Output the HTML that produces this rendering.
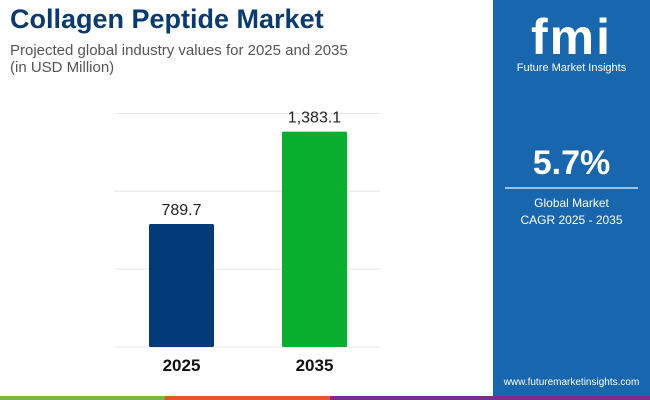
<!DOCTYPE html>
<html><head><meta charset="utf-8"><style>
body{margin:0;width:650px;height:400px;overflow:hidden;background:#fff;font-family:"Liberation Sans",sans-serif;position:relative}
.t{position:absolute;left:10px;top:4px;font-size:27px;font-weight:bold;color:#0b3b6e}
.s{position:absolute;left:10px;top:42px;font-size:15px;color:#555;line-height:17px}
.panel{position:absolute;left:493px;top:0;width:157px;height:396px;background:#1866ad;color:#fff;text-align:center}
</style></head><body>
<div class="t">Collagen Peptide Market</div>
<div class="s">Projected global industry values for 2025 and 2035<br>(in USD Million)</div>
<svg id="c" width="490" height="400" style="position:absolute;left:0;top:0"></svg>
<div class="panel">
<div style="font-size:50px;font-weight:bold;margin-top:8px;letter-spacing:2px">fmi</div>
<div style="font-size:11px;margin-top:-4px">Future Market Insights</div>
<div style="font-size:34px;font-weight:bold;margin-top:70px">5.7%</div>
<div style="height:2px;background:#9cc3e6;margin:4px 12px 6px"></div>
<div style="font-size:12px;line-height:17px">Global Market<br>CAGR 2025 - 2035</div>
<div style="position:absolute;bottom:8px;width:100%;font-size:10px">www.futuremarketinsights.com</div>
</div>
<div style="position:absolute;left:0;top:396px;width:165px;height:4px;background:#7ab648"></div>
<div style="position:absolute;left:165px;top:396px;width:165px;height:4px;background:#e4572e"></div>
<div style="position:absolute;left:330px;top:396px;width:320px;height:4px;background:#7b2d8e"></div>
<script>
const categories=["2025","2035"];
const values=[789.7,1383.1];
const labels=["789.7","1,383.1"];
const ticks=[0,500,1000,1500];
const colors=["#023a78","#0aae2e"];
const svg=document.getElementById('c');const NS="http://www.w3.org/2000/svg";
const y0=347,k=0.1557;const y=v=>y0-v*k;
const x=i=>149+i*133;
function mk(t,a){const e=document.createElementNS(NS,t);for(const q in a)e.setAttribute(q,a[q]);svg.appendChild(e);return e;}
ticks.forEach(t=>{const l=mk('line',{x1:115,x2:380,y1:y(t),y2:y(t),stroke:'#e6e6e6','stroke-width':1});

});
values.forEach((v,i)=>{
const r=mk('rect',{x:x(i),y:y(v),width:65,height:y0-y(v),fill:colors[i],rx:1.5});


const t=mk('text',{x:x(i)+32.5,y:y(v)-9,'text-anchor':'middle','font-size':16,fill:'#222'});t.textContent=labels[i];


const c=mk('text',{x:x(i)+32.5,y:371,'text-anchor':'middle','font-size':17,'font-weight':'bold',fill:'#111'});c.textContent=categories[i];


});
</script>
</body></html>
